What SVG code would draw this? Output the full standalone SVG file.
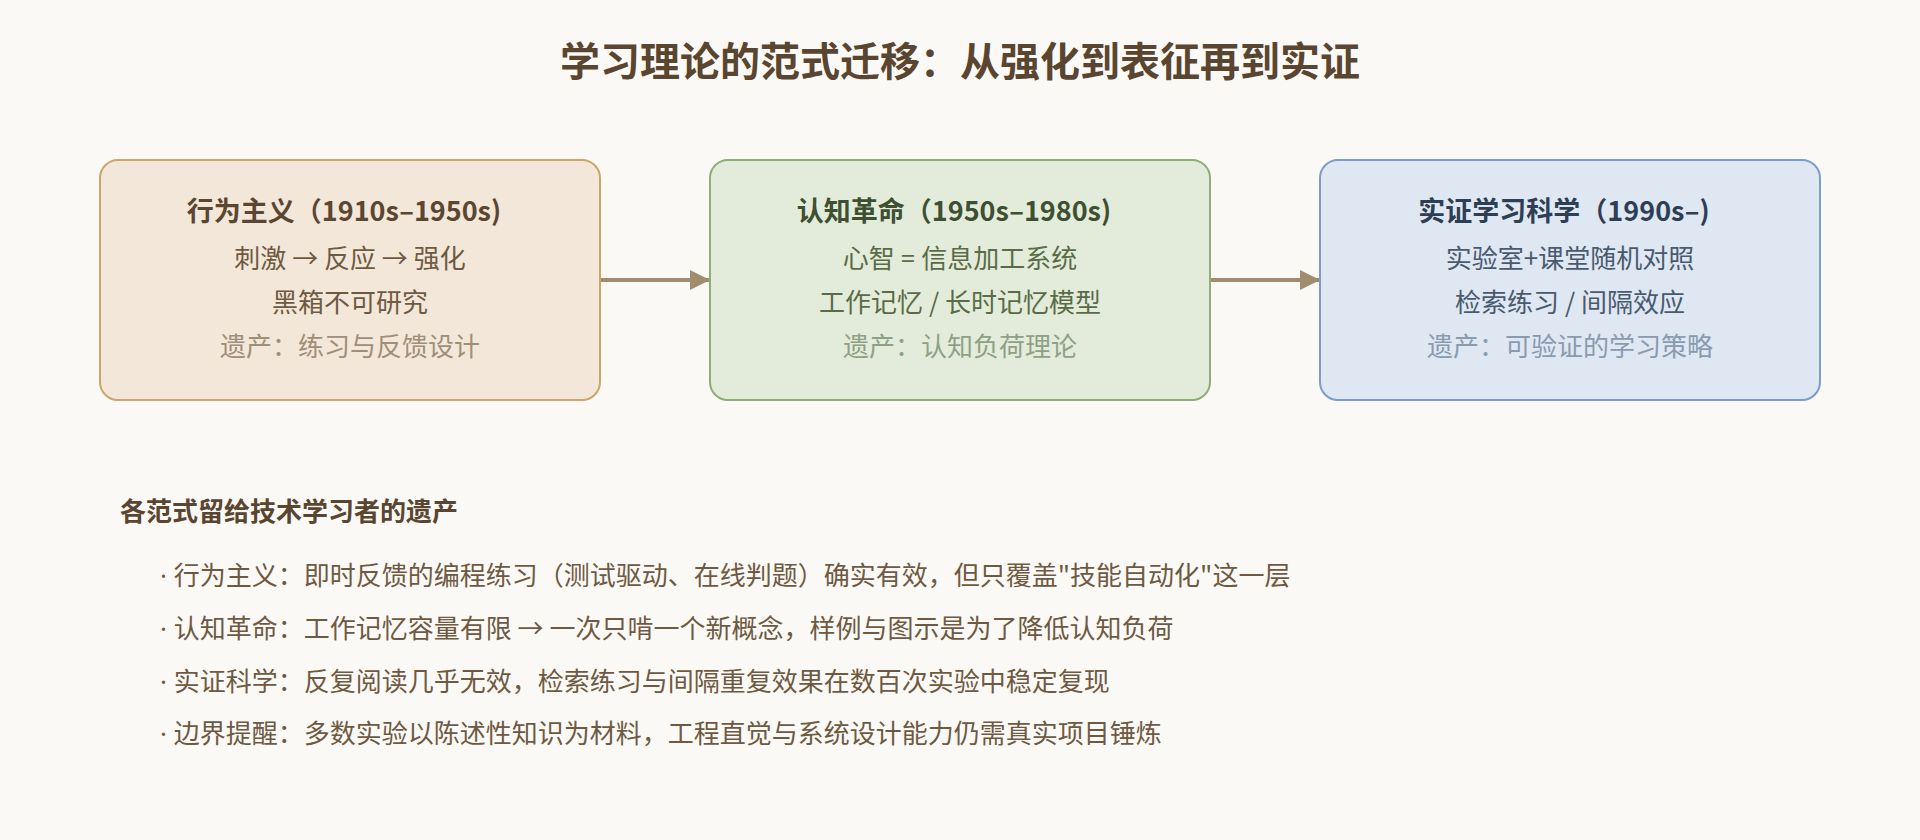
<svg xmlns="http://www.w3.org/2000/svg" width="1920" height="840" viewBox="0 0 1920 840">
  <defs>
    <marker id="arrow" viewBox="0 0 20 20" refX="20" refY="10" markerWidth="20" markerHeight="20" markerUnits="userSpaceOnUse" orient="auto">
      <path d="M0,0 L20,10 L0,20 Z" fill="#a08d6d"/>
    </marker>
    <style>
      text { font-family: "Noto Sans CJK SC", "Noto Sans", sans-serif; }
      .title { font-size: 40px; font-weight: 700; fill: #5a4630; text-anchor: middle; }
      .ntitle { font-size: 27px; font-weight: 700; text-anchor: middle; }
      .nbody { font-size: 26px; text-anchor: middle; }
      .box { stroke-width: 2; }
      .edge { stroke: #a08d6d; stroke-width: 4; fill: none; }
      .h2 { font-size: 26px; font-weight: 700; fill: #5a4630; }
      .item { font-size: 26px; fill: #6e5a43; }
      .dot { font-family: "Noto Sans", sans-serif; }
    </style>
  </defs>
  <rect width="1920" height="840" fill="#fbf9f5"/>
  <text class="title" x="960" y="76">学习理论的范式迁移：从强化到表征再到实证</text>

  <g id="connectors">
    <line class="edge" x1="600" y1="280" x2="710" y2="280" marker-end="url(#arrow)"/>
    <line class="edge" x1="1210" y1="280" x2="1320" y2="280" marker-end="url(#arrow)"/>
  </g>

  <g id="node-behaviorism">
    <rect class="box" x="100" y="160" width="500" height="240" rx="18" fill="#f3e7d9" stroke="#caa66c"/>
    <text class="ntitle" x="344" y="221" fill="#5b4631">行为主义（1910s–1950s)</text>
    <text class="nbody" x="350" y="268" fill="#6e5a43">刺激 → 反应 → 强化</text>
    <text class="nbody" x="350" y="312" fill="#6e5a43">黑箱不可研究</text>
    <text class="nbody" x="350" y="356" fill="#a08e78">遗产：练习与反馈设计</text>
  </g>

  <g id="node-cognitive">
    <rect class="box" x="710" y="160" width="500" height="240" rx="18" fill="#e3ecda" stroke="#90ad7a"/>
    <text class="ntitle" x="954" y="221" fill="#3e4f32">认知革命（1950s–1980s)</text>
    <text class="nbody" x="960" y="268" fill="#5a6b48">心智 <tspan class="dot">=</tspan> 信息加工系统</text>
    <text class="nbody" x="960" y="312" fill="#5a6b48">工作记忆 / 长时记忆模型</text>
    <text class="nbody" x="960" y="356" fill="#8fa086">遗产：认知负荷理论</text>
  </g>

  <g id="node-evidence">
    <rect class="box" x="1320" y="160" width="500" height="240" rx="18" fill="#dee7f2" stroke="#7c9dc9"/>
    <text class="ntitle" x="1564" y="221" fill="#2e3f55">实证学习科学（1990s–)</text>
    <text class="nbody" x="1570" y="268" fill="#4a5a6e">实验室+课堂随机对照</text>
    <text class="nbody" x="1570" y="312" fill="#4a5a6e">检索练习 / 间隔效应</text>
    <text class="nbody" x="1570" y="356" fill="#8a9bb0">遗产：可验证的学习策略</text>
  </g>

  <g id="legacy-notes">
    <text class="h2" x="120" y="521">各范式留给技术学习者的遗产</text>
    <text class="item" x="160" y="585"><tspan class="dot">· </tspan>行为主义：即时反馈的编程练习（测试驱动、在线判题）确实有效，但只覆盖"技能自动化"这一层</text>
    <text class="item" x="160" y="638"><tspan class="dot">· </tspan>认知革命：工作记忆容量有限 → 一次只啃一个新概念，样例与图示是为了降低认知负荷</text>
    <text class="item" x="160" y="691"><tspan class="dot">· </tspan>实证科学：反复阅读几乎无效，检索练习与间隔重复效果在数百次实验中稳定复现</text>
    <text class="item" x="160" y="743"><tspan class="dot">· </tspan>边界提醒：多数实验以陈述性知识为材料，工程直觉与系统设计能力仍需真实项目锤炼</text>
  </g>
</svg>
